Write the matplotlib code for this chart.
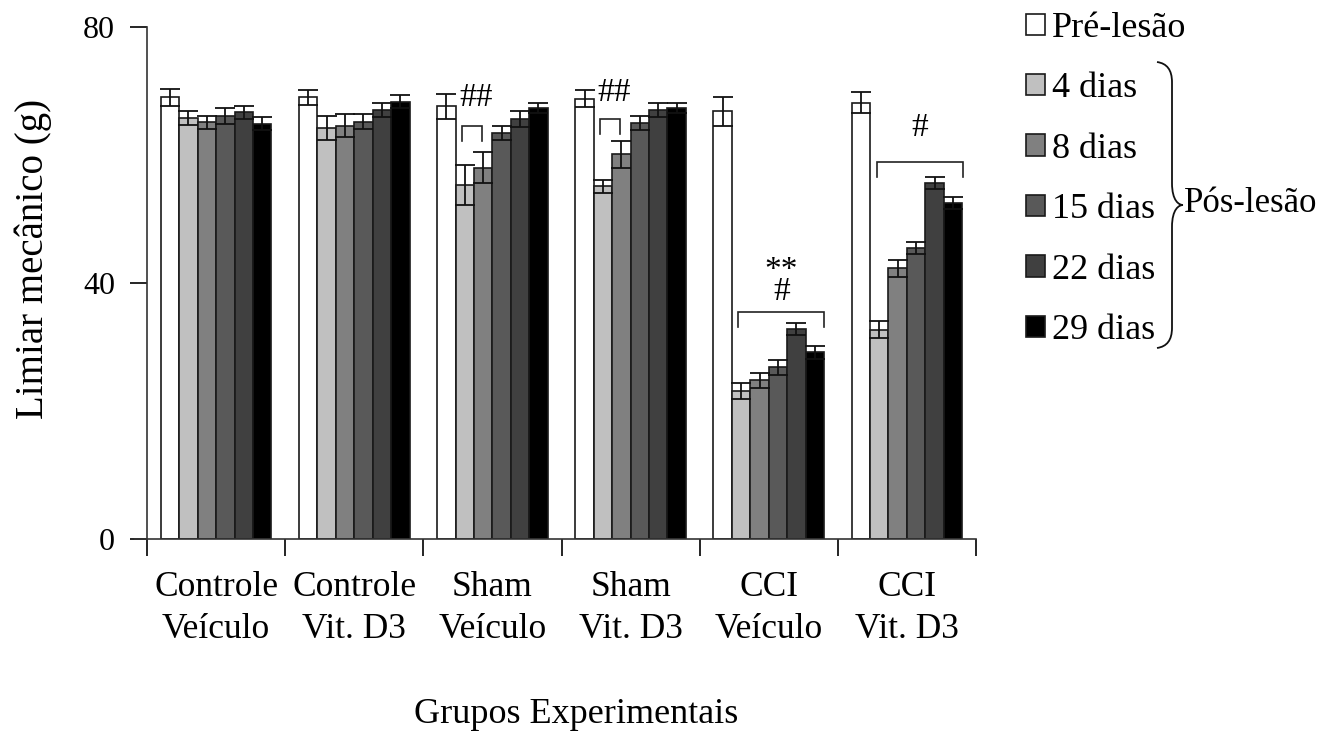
import matplotlib
matplotlib.use("Agg")
import matplotlib.pyplot as plt
import numpy as np
from matplotlib.path import Path
from matplotlib.patches import PathPatch

plt.rcParams['font.family'] = ['Liberation Serif', 'DejaVu Serif']

groups = ["Controle\nVeículo", "Controle\nVit. D3", "Sham\nVeículo",
          "Sham\nVit. D3", "CCI\nVeículo", "CCI\nVit. D3"]
series = ["Pré-lesão", "4 dias", "8 dias", "15 dias", "22 dias", "29 dias"]

pre_lesao = [69.0, 69.0, 67.6, 68.8, 66.8, 68.2]
dias_4    = [65.8, 64.2, 55.3, 55.1, 23.1, 32.7]
dias_8    = [65.1, 64.6, 58.0, 60.1, 24.8, 42.3]
dias_15   = [66.1, 65.2, 63.5, 65.0, 26.8, 45.5]
dias_22   = [66.7, 67.0, 65.6, 67.0, 32.8, 55.6]
dias_29   = [64.9, 68.3, 67.4, 67.4, 29.2, 52.5]

err_pre = [1.3, 1.2, 2.0, 1.3, 2.2, 1.7]
err_4   = [1.1, 1.9, 3.1, 1.0, 1.2, 1.3]
err_8   = [1.0, 1.8, 2.4, 2.1, 1.2, 1.3]
err_15  = [1.3, 1.2, 1.1, 1.1, 1.2, 0.9]
err_22  = [1.0, 1.1, 1.2, 1.1, 0.9, 0.9]
err_29  = [1.0, 1.0, 0.8, 0.8, 1.0, 0.9]

values = [pre_lesao, dias_4, dias_8, dias_15, dias_22, dias_29]
errors = [err_pre, err_4, err_8, err_15, err_22, err_29]
colors = ["#ffffff", "#c0c0c0", "#808080", "#595959", "#404040", "#000000"]

# significance annotations: group, first bar, last bar, bracket top, label, label y
sig_group  = [2, 3, 4, 5]
sig_first  = [1, 1, 1, 1]
sig_last   = [2, 2, 5, 5]
sig_top    = [64.5, 65.6, 35.5, 58.9]
sig_text   = ["##", "##", "**\n#", "#"]
sig_text_y = [68.9, 69.8, 40.3, 64.2]

fig = plt.figure(figsize=(13.32, 7.34), dpi=100)
ax = fig.add_axes([147/1332, 1-539/734, (976-147)/1332, (539-27)/734])

n = len(series)
gw = 0.8
bw = gw / n
x0 = np.arange(len(groups))
handles = []
for i in range(n):
    xs = x0 + (1 - gw) / 2 + (i + 0.5) * bw
    b = ax.bar(xs, values[i], bw, color=colors[i], edgecolor="#1a1a1a",
               linewidth=1.2, label=series[i], zorder=2)
    ax.errorbar(xs, values[i], yerr=errors[i], fmt="none", ecolor="#111111",
                elinewidth=1.3, capsize=7, capthick=1.3, zorder=3)
    handles.append(b)

ax.set_xlim(0, 6)
ax.set_ylim(0, 80)
ax.set_yticks([0, 40, 80])
ax.tick_params(axis="y", labelsize=23, length=12, width=1.2, direction="out", pad=11)
ax.set_xticks(np.arange(0, 7))
ax.set_xticklabels([])
ax.tick_params(axis="x", which="major", length=12, width=1.2, direction="out")
ax.set_xticks(x0 + 0.5, minor=True)
ax.set_xticklabels(groups, minor=True, fontsize=25.5, linespacing=1.36)
ax.tick_params(axis="x", which="minor", length=0, pad=23)
for s in ["top", "right"]:
    ax.spines[s].set_visible(False)
for s in ["left", "bottom"]:
    ax.spines[s].set_linewidth(1.2)
    ax.spines[s].set_color("#333333")
ax.spines["bottom"].set_bounds(-0.09, 6)

ax.set_ylabel("Limiar mecânico (g)", fontsize=28)
ax.yaxis.set_label_coords(-0.1146, 0.547)
ax.set_xlabel("Grupos Experimentais", fontsize=26)
ax.xaxis.set_label_coords(0.5175, -0.311)

def bar_center(g, i):
    return g + (1 - gw) / 2 + (i + 0.5) * bw

for g, a, b, top, t, ty in zip(sig_group, sig_first, sig_last, sig_top, sig_text, sig_text_y):
    xa = bar_center(g, a) - 0.02
    xb = bar_center(g, b) + (0.07 if b == 5 else -0.01)
    ax.plot([xa, xa, xb, xb], [top - 2.3, top, top, top - 2.3], color="#222222",
            lw=1.2, zorder=4, solid_joinstyle="miter")
    xc = (xa + xb) / 2 + (0.03 if t == "##" else 0.0)
    ax.text(xc, ty, t, ha="center", va="center", fontsize=24, linespacing=0.58)

leg = ax.legend(handles=handles, labels=series, loc="upper left",
                bbox_to_anchor=(1026/1332, 1 - 12/734), bbox_transform=fig.transFigure,
                frameon=False, fontsize=26, handlelength=0.53, handleheight=0.53,
                handletextpad=0.2, labelspacing=0.76, borderpad=0, borderaxespad=0)

# curly brace
def px(x, y):
    return (x / 1332, 1 - y / 734)

xL, xM, xT = 1157, 1172, 1183
yT, yC, yB = 62, 205, 348
verts = [px(xL, yT), px(xM, yT + 2), px(xM, yT + 20),
         px(xM, yC - 22),
         px(xM, yC - 4), px(xT - 4, yC), px(xT, yC),
         px(xT - 4, yC), px(xM, yC + 4), px(xM, yC + 22),
         px(xM, yB - 20),
         px(xM, yB - 2), px(xL, yB)]
codes = [Path.MOVETO, Path.CURVE3, Path.CURVE3,
         Path.LINETO,
         Path.CURVE4, Path.CURVE4, Path.CURVE4,
         Path.CURVE4, Path.CURVE4, Path.CURVE4,
         Path.LINETO,
         Path.CURVE3, Path.CURVE3]
brace = PathPatch(Path(verts, codes), transform=fig.transFigure, fill=False,
                  lw=1.3, edgecolor="#111111")
fig.patches.append(brace)
fig.text(1184 / 1332, 1 - 203 / 734, "Pós-lesão", fontsize=25, va="center", ha="left")

fig.savefig("out.png", dpi=100, facecolor="white")
